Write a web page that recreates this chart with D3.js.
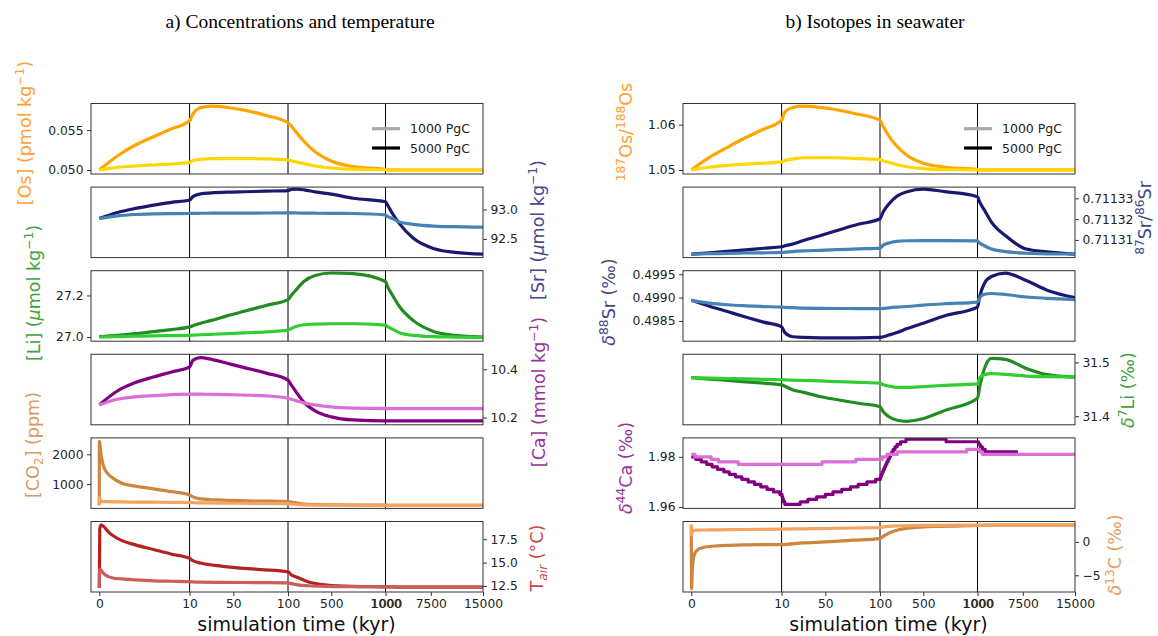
<!DOCTYPE html>
<html>
<head>
<meta charset="utf-8">
<script src="https://cdn.jsdelivr.net/npm/d3@7"></script>
<style>
  body { margin: 0; background: #fff; }
  svg { display: block; }
  text { font-family: "DejaVu Sans", sans-serif; }
  text.title { font-family: "Liberation Serif", "Times New Roman", serif; }
</style>
</head>
<body>
<svg id="chart" width="1158" height="636"></svg>
<script>
// ---- time grids (kyr) ----
const timeKyr = [0, 2, 4, 6, 8, 10, 13, 20, 30, 45, 60, 80, 100, 130, 180, 250, 350, 500, 700, 1000, 1300, 2000, 3000, 5000, 8000, 11000, 15000];
const timeCO2 = [0, 0.01, 0.05, 0.15, 0.3, 0.6, 1, 1.5, 2.5, 4, 6, 8, 10, 13, 20, 40, 70, 100, 150, 250, 500, 1000, 3000, 15000];
const timeTair = [0, 0.05, 0.2, 0.5, 1, 1.5, 2.5, 4, 6, 8, 10, 13, 20, 40, 75, 100, 130, 190, 290, 460, 700, 1000, 3000, 15000];
const timeD13C = [0, 0.03, 0.11, 0.26, 0.56, 1.3, 2.8, 5.8, 10, 30, 50, 75, 100, 140, 180, 280, 420, 590, 1000, 3000, 15000];
const xTickValues = [0, 10, 50, 100, 500, 1000, 7500, 15000];
const scenarioNames = ["1000 PgC", "5000 PgC"];

// ---- a) concentrations and temperature ----
const osConc5000 = [0.0500,0.05175,0.05313,0.05417,0.05517,0.05617,0.05700,0.05779,0.05800,0.05783,0.05750,0.05683,0.05592,0.05550,0.05467,0.05354,0.05229,0.05113,0.05042,0.05008,0.05004,0.05001,0.0500,0.0500,0.0500,0.0500,0.0500];
const osConc1000 = [0.0500,0.05033,0.05050,0.05063,0.05075,0.05096,0.05120,0.05133,0.05142,0.05143,0.05142,0.05140,0.05125,0.05115,0.05100,0.05080,0.05050,0.05025,0.05010,0.05003,0.05001,0.0500,0.0500,0.0500,0.0500,0.0500,0.0500];
const srConc5000 = [92.845,92.948,93.017,93.074,93.120,93.160,93.217,93.264,93.280,93.293,93.300,93.310,93.320,93.340,93.345,93.333,93.298,93.259,93.190,93.131,93.074,92.931,92.759,92.510,92.333,92.272,92.241];
const srConc1000 = [92.845,92.890,92.914,92.925,92.930,92.931,92.933,92.935,92.936,92.937,92.938,92.940,92.941,92.941,92.940,92.938,92.936,92.933,92.931,92.907,92.880,92.845,92.786,92.747,92.717,92.707,92.700];
const liConc5000 = [27.002,27.008,27.016,27.026,27.036,27.049,27.054,27.066,27.080,27.103,27.124,27.152,27.180,27.200,27.230,27.268,27.296,27.308,27.305,27.267,27.242,27.201,27.147,27.079,27.026,27.008,27.000];
const liConc1000 = [27.000,27.002,27.004,27.006,27.007,27.008,27.009,27.011,27.013,27.016,27.020,27.025,27.033,27.041,27.052,27.059,27.062,27.064,27.064,27.057,27.050,27.038,27.021,27.008,27.002,27.000,26.998];
const caConc5000 = [10.2525,10.310,10.345,10.368,10.389,10.410,10.437,10.448,10.441,10.424,10.407,10.384,10.355,10.335,10.303,10.262,10.228,10.203,10.190,10.186,10.186,10.186,10.186,10.186,10.186,10.186,10.186];
const caConc1000 = [10.2525,10.276,10.286,10.291,10.295,10.297,10.297,10.297,10.296,10.295,10.293,10.290,10.280,10.276,10.269,10.260,10.2525,10.244,10.239,10.237,10.237,10.237,10.237,10.237,10.237,10.237,10.237];
const co2_5000 = [288, 2440, 2380, 2100, 1800, 1500, 1330, 1200, 1030, 930, 840, 745, 635, 570, 505, 460, 432, 414, 380, 331, 305, 290, 287, 286];
const co2_1000 = [288, 560, 500, 440, 420, 412, 408, 404, 400, 396, 391, 386, 380, 372, 368, 360, 352, 345, 322, 300, 290, 287, 286, 286];
const tair5000 = [12.3, 18.6, 19.05, 18.85, 18.3, 17.9, 17.35, 16.9, 16.4, 15.9, 15.45, 15.2, 14.95, 14.6, 14.25, 14.0, 13.7, 13.4, 12.93, 12.6, 12.45, 12.4, 12.38, 12.37];
const tair1000 = [12.3, 14.3, 14.2, 13.8, 13.5, 13.35, 13.25, 13.15, 13.05, 13.0, 12.95, 12.93, 12.9, 12.88, 12.85, 12.82, 12.75, 12.62, 12.52, 12.45, 12.42, 12.4, 12.38, 12.37];

// ---- b) isotopes in seawater ----
const osRatio5000 = [1.0500,1.0528,1.0550,1.0571,1.0590,1.0610,1.0628,1.0638,1.0641,1.0638,1.0633,1.0623,1.0610,1.0596,1.0576,1.0554,1.0532,1.0515,1.0506,1.0501,1.0500,1.0500,1.0500,1.0500,1.0500,1.0500,1.0500];
const osRatio1000 = [1.0500,1.0506,1.0510,1.0513,1.0515,1.0518,1.0521,1.0524,1.0527,1.0527,1.0527,1.0525,1.0523,1.0520,1.0517,1.0512,1.0507,1.0503,1.0501,1.0500,1.0500,1.0500,1.0500,1.0500,1.0500,1.0500,1.0500];
const srRatio5000 = [0.7113032,0.7113038,0.7113045,0.7113052,0.7113060,0.7113067,0.7113072,0.7113080,0.7113097,0.7113120,0.7113144,0.7113175,0.7113202,0.7113235,0.7113272,0.7113308,0.7113332,0.7113344,0.7113332,0.7113308,0.7113283,0.7113243,0.7113186,0.7113121,0.7113056,0.7113043,0.7113032];
const srRatio1000 = [0.7113032,0.7113034,0.7113035,0.7113037,0.7113038,0.7113040,0.7113041,0.7113044,0.7113047,0.7113050,0.7113053,0.7113057,0.7113061,0.7113075,0.7113085,0.7113093,0.7113096,0.7113097,0.7113097,0.7113095,0.7113085,0.7113072,0.7113056,0.7113044,0.7113036,0.7113033,0.7113032];
const d88Sr5000 = [0.498941,0.498816,0.498700,0.498583,0.498473,0.498371,0.498246,0.498159,0.498144,0.498137,0.498137,0.498137,0.498144,0.498159,0.498195,0.498246,0.498334,0.498451,0.498612,0.498795,0.499014,0.499306,0.499452,0.499526,0.499365,0.499160,0.499000];
const d88Sr1000 = [0.498941,0.498882,0.498846,0.498824,0.498808,0.498794,0.498790,0.498783,0.498772,0.498768,0.498766,0.498765,0.498765,0.498767,0.498780,0.498795,0.498809,0.498838,0.498868,0.498904,0.499000,0.499072,0.499088,0.499066,0.499013,0.498985,0.498956];
const d7Li5000 = [31.4715,31.4690,31.4664,31.4639,31.4613,31.4582,31.4557,31.4493,31.4443,31.4367,31.4310,31.4240,31.4177,31.4082,31.3994,31.3930,31.3905,31.3956,31.4108,31.4335,31.4537,31.4886,31.5076,31.5057,31.4886,31.4772,31.4727];
const d7Li1000 = [31.4715,31.4708,31.4700,31.4692,31.4685,31.4677,31.4675,31.4670,31.4665,31.4655,31.4643,31.4630,31.4613,31.4585,31.4560,31.4537,31.4535,31.4550,31.4573,31.4602,31.4715,31.4772,31.4791,31.4778,31.4746,31.4735,31.4727];
// delta44Ca is reported on a 0.001 permil grid, drawn as steps
const d44CaTime5000 = [0,0.5,1.1,1.7,2.3,2.9,3.6,4.2,4.9,5.6,6.3,7.0,7.7,8.4,9.1,9.8,10.4,11,11.8,13,27,34,42,50,57,65,73,80,88,96,104,112,121,131,142,152,163,174,185,196,208,222,238,258,290,340,710,1150,1400,1700,2100,6800];
const d44Ca5000 = [1.980,1.979,1.978,1.977,1.976,1.975,1.974,1.973,1.972,1.971,1.970,1.969,1.968,1.967,1.966,1.965,1.964,1.963,1.962,1.961,1.962,1.963,1.964,1.965,1.966,1.967,1.968,1.969,1.970,1.971,1.972,1.973,1.974,1.975,1.976,1.977,1.978,1.979,1.980,1.981,1.982,1.983,1.984,1.985,1.986,1.987,1.986,1.985,1.984,1.983,1.982,1.982];
const d44CaTime1000 = [0,0.4,2.2,3.0,5.2,47,78,120,165,260,900,1300,1700,15000];
const d44Ca1000 = [1.981,1.980,1.979,1.978,1.977,1.978,1.979,1.980,1.981,1.982,1.983,1.982,1.981,1.981];
const d13C5000 = [2.55, -7.0, -4.3, -2.3, -1.35, -0.85, -0.6, -0.45, -0.4, -0.15, 0.0, 0.25, 0.5, 0.95, 1.3, 1.85, 2.15, 2.3, 2.45, 2.5, 2.5];
const d13C1000 = [2.55, 1.0, 1.55, 1.7, 1.75, 1.78, 1.8, 1.85, 1.9, 1.95, 2.0, 2.08, 2.15, 2.25, 2.32, 2.4, 2.45, 2.48, 2.5, 2.5, 2.5];

// ---- layout ----
const svg = d3.select("#chart");
const colLeft = [91, 683];
const frameW = 392, frameH = 70.5;
const rowTop = i => 103.5 + i * 83.6;
const tickFont = 12.3, labelFont = 17.5;

const C = {
  orange: "#FFA500", gold: "#FFD700", navy: "#191970", steel: "#4682B4",
  forest: "#228B22", lime: "#32CD32", purple: "#800080", orchid: "#DA70D6",
  peru: "#CD853F", sandy: "#F4A460", fire: "#B22222", indian: "#CD5C5C"
};

const panels = [
  { col: 0, row: 0, domain: [0.0495, 0.05833], ticks: [0.050, 0.055], fmt: ".3f", side: "left", legend: true,
    series: [[timeKyr, osConc5000, C.orange], [timeKyr, osConc1000, C.gold]],
    label: { parts: [{ t: "[Os] (pmol kg" }, { t: "−1", sup: 1 }, { t: ")" }], color: "#FFA033", x: 25, y: 133 } },
  { col: 0, row: 1, domain: [92.183, 93.379], ticks: [92.5, 93.0], fmt: ".1f", side: "right",
    series: [[timeKyr, srConc5000, C.navy], [timeKyr, srConc1000, C.steel]],
    label: { parts: [{ t: "[Sr] (" }, { t: "μ", it: 1 }, { t: "mol kg" }, { t: "−1", sup: 1 }, { t: ")" }], color: "#47478D", x: 538, y: 230 } },
  { col: 0, row: 2, domain: [26.98, 27.319], ticks: [27.0, 27.2], fmt: ".1f", side: "left",
    series: [[timeKyr, liConc5000, C.forest], [timeKyr, liConc1000, C.lime]],
    label: { parts: [{ t: "[Li] (" }, { t: "μ", it: 1 }, { t: "mol kg" }, { t: "−1", sup: 1 }, { t: ")" }], color: "#3DA33D", x: 34, y: 293 } },
  { col: 0, row: 3, domain: [10.17, 10.462], ticks: [10.2, 10.4], fmt: ".1f", side: "right",
    series: [[timeKyr, caConc5000, C.purple], [timeKyr, caConc1000, C.orchid]],
    label: { parts: [{ t: "[Ca] (mmol kg" }, { t: "−1", sup: 1 }, { t: ")" }], color: "#993399", x: 539, y: 392 } },
  { col: 0, row: 4, domain: [183, 2552], ticks: [1000, 2000], fmt: "d", side: "left",
    series: [[timeCO2, co2_5000, C.peru], [timeCO2, co2_1000, C.sandy]],
    label: { parts: [{ t: "[CO" }, { t: "2", sub: 1 }, { t: "] (ppm)" }], color: "#D99A60", x: 33, y: 445 } },
  { col: 0, row: 5, domain: [11.85, 19.4], ticks: [12.5, 15.0, 17.5], fmt: ".1f", side: "right", xaxis: true,
    series: [[timeTair, tair5000, C.fire], [timeTair, tair1000, C.indian]],
    label: { parts: [{ t: "T" }, { t: "air", sub: 1, it: 1 }, { t: " (°C)" }], color: "#C94848", x: 537, y: 558 } },

  { col: 1, row: 0, domain: [1.04911, 1.06467], ticks: [1.05, 1.06], fmt: ".2f", side: "left", legend: true,
    series: [[timeKyr, osRatio5000, C.orange], [timeKyr, osRatio1000, C.gold]],
    label: { parts: [{ t: "187", sup: 1 }, { t: "Os/" }, { t: "188", sup: 1 }, { t: "Os" }], color: "#FFA033", x: 626, y: 132 } },
  { col: 1, row: 1, domain: [0.7113015, 0.7113354], ticks: [0.71131, 0.71132, 0.71133], fmt: ".5f", side: "right",
    series: [[timeKyr, srRatio5000, C.navy], [timeKyr, srRatio1000, C.steel]],
    label: { parts: [{ t: "87", sup: 1 }, { t: "Sr/" }, { t: "86", sup: 1 }, { t: "Sr" }], color: "#47478D", x: 1145, y: 218 } },
  { col: 1, row: 2, domain: [0.498064, 0.499577], ticks: [0.4985, 0.4990, 0.4995], fmt: ".4f", side: "left",
    series: [[timeKyr, d88Sr5000, C.navy], [timeKyr, d88Sr1000, C.steel]],
    label: { parts: [{ t: "δ", it: 1 }, { t: "88", sup: 1 }, { t: "Sr (‰)" }], color: "#47478D", x: 609, y: 302 } },
  { col: 1, row: 3, domain: [31.384, 31.515], ticks: [31.4, 31.5], fmt: ".1f", side: "right",
    series: [[timeKyr, d7Li5000, C.forest], [timeKyr, d7Li1000, C.lime]],
    label: { parts: [{ t: "δ", it: 1 }, { t: "7", sup: 1 }, { t: "Li (‰)" }], color: "#3DA33D", x: 1128, y: 390 } },
  { col: 1, row: 4, domain: [1.95942, 1.98754], ticks: [1.96, 1.98], fmt: ".2f", side: "left", step: true,
    series: [[d44CaTime5000, d44Ca5000, C.purple], [d44CaTime1000, d44Ca1000, C.orchid]],
    label: { parts: [{ t: "δ", it: 1 }, { t: "44", sup: 1 }, { t: "Ca (‰)" }], color: "#993399", x: 626, y: 468 } },
  { col: 1, row: 5, domain: [-7.5, 3.05], ticks: [-5, 0], fmt: "d", side: "right", xaxis: true,
    series: [[timeD13C, d13C5000, C.peru], [timeD13C, d13C1000, C.sandy]],
    label: { parts: [{ t: "δ", it: 1 }, { t: "13", sup: 1 }, { t: "C (‰)" }], color: "#E3A064", x: 1115, y: 555 } }
];

// piecewise-linear time axis: each decade block gets its own stretch
function makeX(left) {
  return d3.scaleLinear()
    .domain([0, 10, 100, 1000, 15000])
    .range([left + 8.3, left + 98.6, left + 197, left + 294.5, left + 392]);
}

// text with super/subscripts, rotated to read bottom-to-top
function rotatedLabel(g, spec) {
  const t = g.append("text")
    .attr("transform", `translate(${spec.x + 0.36 * labelFont},${spec.y}) rotate(-90)`)
    .attr("text-anchor", "middle")
    .attr("font-size", labelFont)
    .attr("fill", spec.color);
  let shift = 0;
  spec.parts.forEach(p => {
    let target = 0, size = labelFont;
    if (p.sup) { target = -0.42 * labelFont; size = 0.7 * labelFont; }
    if (p.sub) { target = 0.22 * labelFont; size = 0.7 * labelFont; }
    const ts = t.append("tspan").text(p.t).attr("font-size", size).attr("dy", target - shift);
    if (p.it) ts.attr("font-style", "italic");
    shift = target;
  });
}

const defs = svg.append("defs");

panels.forEach((p, i) => {
  const left = colLeft[p.col];
  const top = rowTop(p.row);
  const bottom = top + frameH;
  const x = makeX(left);
  const y = d3.scaleLinear().domain(p.domain).range([bottom, top]);
  const g = svg.append("g").attr("class", "panel");

  const clipId = "clip" + i;
  defs.append("clipPath").attr("id", clipId)
    .append("rect").attr("x", left).attr("y", top).attr("width", frameW).attr("height", frameH);

  // block separators at 10, 100 and 1000 kyr
  g.selectAll("line.sep").data([10, 100, 1000]).enter().append("line")
    .attr("class", "sep")
    .attr("x1", d => x(d)).attr("x2", d => x(d))
    .attr("y1", top).attr("y2", bottom)
    .attr("stroke", "#000").attr("stroke-width", 1);

  const lineGen = d3.line()
    .x(d => x(d[0])).y(d => y(d[1]))
    .curve(p.step ? d3.curveStepAfter : d3.curveMonotoneX);

  const dataG = g.append("g").attr("clip-path", `url(#${clipId})`);
  p.series.forEach(([ts, vs, color]) => {
    dataG.append("path")
      .datum(ts.map((t, k) => [t, vs[k]]))
      .attr("d", lineGen)
      .attr("fill", "none")
      .attr("stroke", color)
      .attr("stroke-width", 3.2)
      .attr("stroke-linejoin", "round");
  });

  g.append("rect")
    .attr("x", left).attr("y", top).attr("width", frameW).attr("height", frameH)
    .attr("fill", "none").attr("stroke", "#333").attr("stroke-width", 1);

  // value axis
  const axis = (p.side === "left" ? d3.axisLeft(y) : d3.axisRight(y))
    .tickValues(p.ticks).tickFormat(d3.format(p.fmt)).tickSize(4).tickPadding(3.5);
  const ag = g.append("g")
    .attr("transform", `translate(${p.side === "left" ? left : left + frameW},0)`)
    .call(axis);
  ag.select(".domain").remove();
  ag.selectAll(".tick line").attr("stroke", "#333");
  ag.selectAll(".tick text").attr("font-size", tickFont).attr("fill", "#222")
    .attr("font-family", "DejaVu Sans, sans-serif");

  // time axis on the bottom row
  if (p.xaxis) {
    const xa = g.append("g").attr("transform", `translate(0,${bottom})`)
      .call(d3.axisBottom(x).tickValues(xTickValues).tickFormat(d3.format("d")).tickSize(4).tickPadding(3));
    xa.select(".domain").remove();
    xa.selectAll(".tick line").attr("stroke", "#333");
    xa.selectAll(".tick text").attr("font-size", tickFont).attr("fill", "#222")
      .attr("font-family", "DejaVu Sans, sans-serif");
    // the 1000 kyr label is printed by both neighbouring blocks
    xa.selectAll(".tick").filter(d => d === 1000).each(function () {
      const tx = d3.select(this).select("text");
      d3.select(this).append("text")
        .attr("x", 0.7).attr("y", tx.attr("y")).attr("dy", tx.attr("dy"))
        .attr("font-size", tickFont).attr("fill", "#222").attr("text-anchor", "middle")
        .text(tx.text());
    });
    g.append("text")
      .attr("x", left + 205.5).attr("y", 631)
      .attr("text-anchor", "middle").attr("font-size", 19).attr("fill", "#111")
      .text("simulation time (kyr)");
  }

  if (p.legend) {
    const lx = left + 281, ly = top + 25.2;
    const items = [{ name: scenarioNames[0], color: "#AAAAAA" }, { name: scenarioNames[1], color: "#000" }];
    items.forEach((it, k) => {
      const yy = ly + k * 19.3;
      g.append("line").attr("x1", lx).attr("x2", lx + 28).attr("y1", yy).attr("y2", yy)
        .attr("stroke", it.color).attr("stroke-width", 3.2);
      g.append("text").attr("x", lx + 38).attr("y", yy + 4.5)
        .attr("font-size", 12.5).attr("fill", "#222").text(it.name);
    });
  }

  rotatedLabel(g, p.label);
});

// column titles
svg.append("text").attr("class", "title").attr("x", 300).attr("y", 28).attr("text-anchor", "middle")
  .attr("font-size", 19.5).attr("fill", "#000")
  .text("a) Concentrations and temperature");
svg.append("text").attr("class", "title").attr("x", 875).attr("y", 28).attr("text-anchor", "middle")
  .attr("font-size", 19.5).attr("fill", "#000")
  .text("b) Isotopes in seawater");
</script>
</body>
</html>
